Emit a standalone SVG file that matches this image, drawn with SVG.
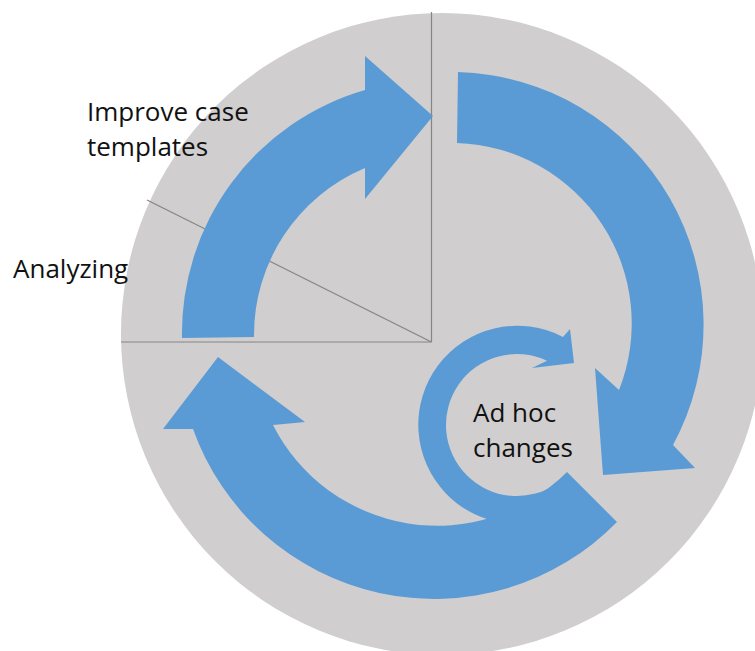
<svg xmlns="http://www.w3.org/2000/svg" width="755" height="651" viewBox="0 0 755 651">
  <style>
    .arrow { fill: #5B9BD5; }
    .guide { stroke: #858585; stroke-width: 1.2; fill: none; }
    .label { font-family: "Open Sans", "DejaVu Sans", sans-serif; font-size: 26px; fill: #111111; }
  </style>
  <rect x="0" y="0" width="755" height="651" fill="#FFFFFF"/>
  <g id="background">
    <circle cx="442" cy="334" r="321" fill="#D0CECE"/>
  </g>
  <g id="connectors">
    <line class="guide" x1="431.5" y1="12" x2="431.5" y2="342"/>
    <line class="guide" x1="121" y1="342" x2="431.5" y2="342"/>
    <line class="guide" x1="147" y1="200" x2="431.5" y2="342"/>
  </g>
  <g id="arrow-improve">
    <path class="arrow" d="M 182,338 A 253 253 0 0 1 365,90 L 365,56 L 433,116 L 365,199 L 365,168 A 181 181 0 0 0 254,337 Z"/>
  </g>
  <g id="arrow-right">
    <path class="arrow" d="M 458,72 A 252.6 252.6 0 0 1 673,445 L 695,468 L 603,475 L 595,368 L 619,390 A 180.5 180.5 0 0 0 457,143 Z"/>
  </g>
  <g id="arrow-adhoc">
    <path class="arrow" d="M 563,337 L 570,329 L 574,363 L 532,368 L 547,360.7 A 71 71 0 1 0 557.7,483.2 L 573.8,506.1 A 99 99 0 1 1 563,337 Z"/>
  </g>
  <g id="arrow-bottom">
    <path class="arrow" d="M 617,522 A 256 256 0 0 1 193,429 L 163,429 L 218,357 L 305,422 L 273,425 A 184 184 0 0 0 567,472 Z"/>
  </g>
  <g id="label-improve">
    <text class="label" x="87" y="121">Improve case</text>
    <text class="label" x="87" y="156">templates</text>
  </g>
  <g id="label-analyzing">
    <text class="label" x="13" y="278">Analyzing</text>
  </g>
  <g id="label-adhoc">
    <text class="label" x="473" y="422">Ad hoc</text>
    <text class="label" x="473" y="457">changes</text>
  </g>
</svg>
